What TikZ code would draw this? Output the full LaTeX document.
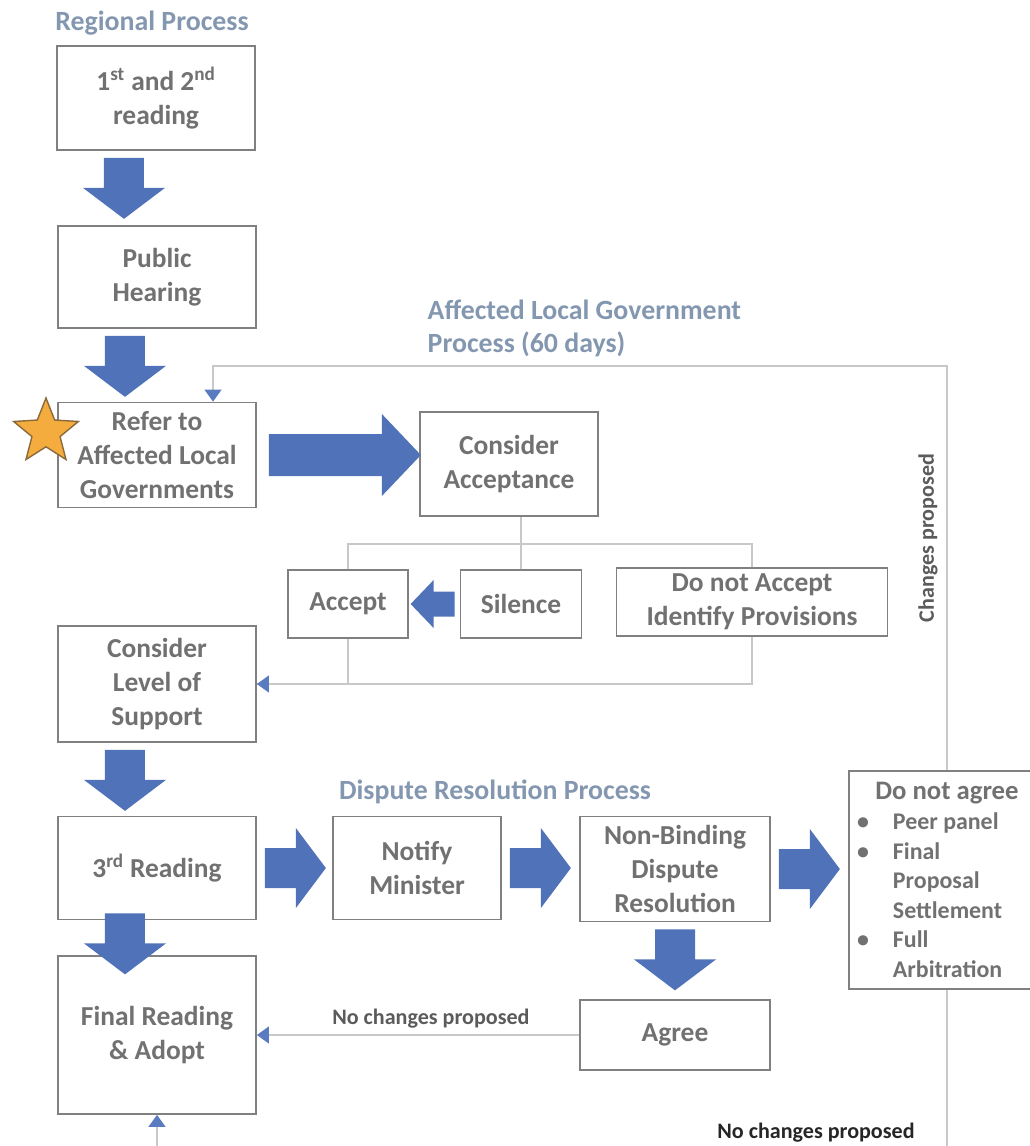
\documentclass[tikz,border=0pt]{standalone}
\usepackage{fontspec}
\setmainfont{Carlito}
\usetikzlibrary{arrows.meta,shapes.geometric}

\definecolor{boxgray}{HTML}{808080}
\definecolor{textgray}{HTML}{717171}
\definecolor{titleblue}{HTML}{8497B0}
\definecolor{linegray}{HTML}{C8C8C8}
\definecolor{arrowblue}{HTML}{5A7BBF}
\definecolor{blockblue}{HTML}{4F72B8}
\definecolor{starorange}{HTML}{F5AC3E}
\definecolor{starbrown}{HTML}{8A6A3A}

\newcommand\dnaitem[1]{\par\hangindent=0.9cm\hangafter=0\noindent\llap{\textbullet\hspace{0.6cm}}#1}

\begin{document}
\begin{tikzpicture}[x=0.025cm,y=-0.025cm]
    \tikzset{box/.style={draw=boxgray, line width=1.2pt, fill=white, text=textgray, align=center, inner sep=2pt,
                         font=\bfseries\fontsize{19.5}{24}\selectfont},
             heading/.style={text=titleblue, inner sep=1pt, font=\bfseries\fontsize{19.8}{23.5}\selectfont},
             notelabel/.style={inner sep=1pt, font=\bfseries\fontsize{15.7}{18}\selectfont},
             line/.style={draw=linegray, line width=1.3pt},
             link/.style={line, -{Triangle[length=0.3cm,width=0.42cm,color=arrowblue]}},
             downblock/.pic={\fill[blockblue] (-20,7) -- (20,7) -- (20,37) -- (41,37) -- (0,68) -- (-41,37) -- (-20,37) -- cycle;},
             rightblock/.pic={\fill[blockblue] (8,-20) -- (39,-20) -- (39,-40) -- (69,0) -- (39,40) -- (39,20) -- (8,20) -- cycle;},
             bigright/.pic={\fill[blockblue] (12,-21) -- (125,-21) -- (125,-41) -- (164,0) -- (125,41) -- (125,21) -- (12,21) -- cycle;},
             smallleft/.pic={\fill[blockblue] (-5,-12.5) -- (-26,-12.5) -- (-26,-24) -- (-49,0) -- (-26,24) -- (-26,12.5) -- (-5,12.5) -- cycle;}}
    \useasboundingbox (0,0) rectangle (1030,1146);
    \clip (0,0) rectangle (1030,1146);

    % headings
    \node [heading]              (regtitle) at (152,23)  {Regional Process};
    \node [heading, align=left, anchor=west] (algtitle) at (426,328) {Affected Local Government\\Process (60 days)};
    \node [heading]              (drtitle)  at (495,792) {Dispute Resolution Process};

    % regional process
    \node [box, minimum width=4.95cm, minimum height=2.6cm]   (r1)  at (156,98)   {1\textsuperscript{st} and 2\textsuperscript{nd}\\reading};
    \node [box, minimum width=4.95cm, minimum height=2.55cm]  (r2)  at (157,277)  {Public\\Hearing};
    \node [box, minimum width=4.95cm, minimum height=2.625cm] (r3)  at (157,455)  {Refer to\\Affected Local\\Governments};
    \node [box, minimum width=4.95cm, minimum height=2.9cm]   (lvl) at (157,684)  {Consider\\Level of\\Support};
    \node [box, minimum width=4.95cm, minimum height=2.575cm] (r4)  at (157,868)  {3\textsuperscript{rd} Reading};
    \node [box, minimum width=4.95cm, minimum height=3.95cm]  (final) at (157,1035) {Final Reading\\\& Adopt};
    \node [star, star points=5, star point ratio=2.3, minimum size=1.7cm, inner sep=0pt,
           fill=starorange, draw=starbrown, line width=1pt] (star) at (46,432) {};

    % affected local governments
    \node [box, minimum width=4.45cm, minimum height=2.6cm]   (cacc)  at (509,464) {Consider\\Acceptance};
    \node [box, minimum width=3cm, minimum height=1.7cm]      (acc)   at (348,604) {Accept};
    \node [box, minimum width=3.025cm, minimum height=1.7cm]  (sil)   at (521,604) {Silence};
    \node [box, minimum width=6.775cm, minimum height=1.7cm]  (dnacc) at (752,602) {Do not Accept\\Identify Provisions};

    % dispute resolution
    \node [box, minimum width=4.2cm, minimum height=2.575cm]  (notify) at (417,868) {Notify\\Minister};
    \node [box, minimum width=4.75cm, minimum height=2.625cm] (nbd)    at (675,869) {Non-Binding\\Dispute\\Resolution};
    \node [box, minimum width=4.75cm, minimum height=1.75cm]  (agree)  at (675,1035) {Agree};
    \node [box, minimum width=4.9cm, minimum height=5.45cm, text width=4.5cm, align=flush left, inner sep=0pt,
           font=\bfseries\fontsize{17}{21}\selectfont] (dagree) at (947,880)
          {{\fontsize{19}{24}\selectfont\centering Do not agree\par}
           \dnaitem{Peer panel}
           \dnaitem{Final\newline Proposal\newline Settlement}
           \dnaitem{Full\newline Arbitration}\par};

    % thin connectors
    \draw [line] ([xshift=0.3cm]cacc.south) -- ++(0,27) coordinate (bar);
    \draw [line] (acc.north) |- (bar) -| (dnacc.north);
    \draw [line] (bar) -- (sil.north);
    \draw [line] (acc.south) |- (lvl.east);
    \draw [link] (dnacc.south) |- (lvl.east);
    \draw [link] (dagree.north) -- ++(0,-404) -| ([xshift=1.4cm]r3.north);
    \node [notelabel, text=textgray!80!black, rotate=90] (chg) at (928,538) {Changes proposed};
    \draw [link] (agree.west) -- (final.east)
          node [notelabel, text=textgray!80!black, pos=0.46, above=0.12cm] (nochg) {No changes proposed};
    \draw [link] (dagree.south) -- ++(0,300) -| (final.south);
    \node [notelabel, text=black!85] (nochgb) at (816,1133) {No changes proposed};

    % block arrows
    \pic at ([xshift=-0.8cm]r1.south) {downblock};
    \pic at ([xshift=-0.8cm]r2.south) {downblock};
    \pic at ([xshift=-0.8cm]lvl.south) {downblock};
    \pic at ([xshift=-0.8cm,yshift=0.35cm]r4.south) {downblock};
    \pic at (nbd.south) {downblock};
    \pic at (r3.east) {bigright};
    \pic at (sil.west) {smallleft};
    \pic at (r4.east) {rightblock};
    \pic at (notify.east) {rightblock};
    \pic at (nbd.east) {rightblock};
\end{tikzpicture}
\end{document}
